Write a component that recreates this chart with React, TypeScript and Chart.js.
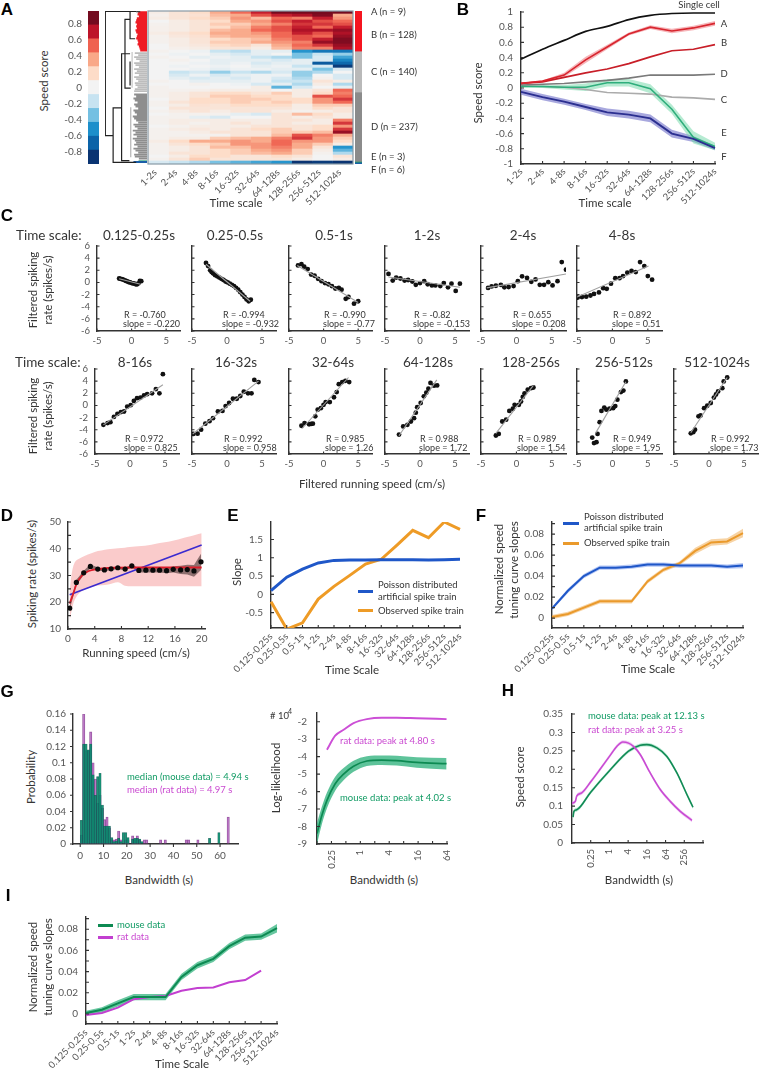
import React, { useEffect, useRef } from 'react';
import { Chart, registerables } from 'chart.js';
Chart.register(...registerables);

const FONT = 'Lato, "Open Sans", sans-serif';
Chart.defaults.font.family = FONT;
const AXIS = '#333';
const TICK = '#555';
const GREEN = '#0f9a62';
const MAGENTA = '#c947d0';

/* ---------- data ---------- */
const scale10 = ['1-2s','2-4s','4-8s','8-16s','16-32s','32-64s','64-128s','128-256s','256-512s','512-1024s'];
const scale13 = ['0.125-0.25s','0.25-0.5s','0.5-1s','1-2s','2-4s','4-8s','8-16s','16-32s','32-64s','64-128s','128-256s','256-512s','512-1024s'];
const colorLevels = ['#0a3472','#0b63a8','#1c8fcb','#74c0e2','#c7e3f1','#f3f3f3','#fddcc8','#f9a888','#ef6150','#bd1429','#740b1f'];
const heatRows = [
[.05,.1,.15,.3,.45,.6,.8,.85,.9,.85],[.03,.1,.12,.25,.3,.5,.6,.65,.75,.3],[.05,.1,.15,.2,.35,.25,.45,.4,.6,.35],
[0,.05,.1,.15,.3,.35,.5,.6,.5,.45],[.02,.05,.1,.2,.2,.3,.4,.55,.55,.5],[.03,.05,.1,.15,.25,.4,.5,.6,.45,.6],
[.03,.05,.1,.25,.3,.45,.5,.65,.65,.7],[.05,.1,.15,.3,.3,.35,.45,.6,.5,.65],[.02,.08,.12,.25,.3,.3,.45,.5,.45,.7],
[.02,.05,.1,.15,.2,.25,.4,.5,.6,.75],[.02,.05,.1,.2,.2,.3,.35,.4,.7,.75],[0,.05,.08,.15,.18,.1,.3,.45,.55,.7],
[0,.03,.05,.1,.1,.05,.25,.4,.4,.65],[.02,0,-.02,-.15,-.18,-.05,-.05,-.45,-.55,-.55],[0,-.02,0,-.05,-.1,-.05,0,-.3,-.15,-.25],
[.02,0,-.05,-.02,-.05,-.15,-.2,-.3,-.1,-.4],[0,.02,0,-.05,-.05,-.05,-.1,-.05,-.1,-.5],[0,0,-.02,-.05,-.02,-.1,-.05,-.05,-.65,-.6],
[0,-.02,0,-.02,0,-.05,-.02,-.15,-.1,-.75],[0,0,-.02,-.05,-.02,-.02,-.05,-.05,-.3,-.1],[0,-.15,-.1,-.25,-.15,-.2,-.1,-.25,-.2,0],
[0,-.1,-.02,-.1,-.05,-.02,-.02,-.25,0,-.1],[0,-.05,-.1,-.05,-.1,-.02,-.1,-.2,.02,-.1],[.02,0,-.05,-.05,-.05,-.02,-.15,-.15,.1,.05],
[0,0,.02,0,-.02,-.1,-.05,-.2,.05,-.2],[.02,0,0,0,0,.05,-.35,-.1,0,-.05],[.02,.02,.03,.05,.05,.05,0,.05,.1,.45],
[.02,.05,.1,.15,.15,.1,.2,.05,.15,.4],[.02,.05,.1,.2,.2,.15,.15,.05,.5,.45],[0,.05,.15,.15,.2,.2,.15,.15,.35,.55],
[.02,.1,.15,.15,.2,.15,.2,.15,.35,.45],[.02,.05,.12,.1,.15,.15,.15,.05,.2,.2],[0,.1,.1,.1,.1,.1,.1,.05,.15,.1],
[.02,.05,.1,.05,.1,.1,.05,.02,.05,.1],[0,.02,.02,.02,-.05,-.1,.1,.25,.15,.05],[.02,.02,-.05,-.1,0,0,.1,.05,.1,.05],
[.02,.05,.05,.05,.05,.05,.1,.1,.05,.4],[.02,.05,.02,.05,.1,.05,.1,.05,.05,.55],[0,.02,.05,.05,.05,.1,.1,.1,.15,.35],
[.02,.05,.08,.05,.1,.15,.2,.1,.15,.55],[.02,.02,.05,.1,.1,.1,.2,.2,.25,.7],[.02,.02,.02,.02,.1,.1,.25,.5,.4,.3],
[.02,.05,.05,.2,.25,.3,.4,.55,.35,.2],[.05,.15,.3,.3,.35,.3,.45,.35,.35,.15],[.02,.1,.15,.2,.35,.35,.45,.3,.2,.05],
[.02,.05,.1,.25,.25,.35,.4,.3,.1,-.45],[.02,.05,.1,.15,.2,.3,.35,.2,.05,-.35],[.02,.1,.1,.15,.2,.25,.3,.2,.02,-.2],
[0,.05,.15,.15,.1,.1,.15,.1,0,.1],[.02,.1,.2,.1,.1,.1,.1,.05,0,.05],[-.1,-.15,-.2,-.3,-.35,-.4,-.45,-.8,-.75,-.85],
];
const clusterCounts = [9,128,140,237,3,6];
const clusterColors = ['#f5141f','#f5141f','#b9b9b9','#8b8b8b','#1f9a6a','#1a5ea8'];
const dendroBlack = [
[[408,33],[317,33],[317,405],[340,405]],[[365,322],[340,322],[340,485],[408,485]],
[[390,160],[365,160],[365,480],[388,480]],[[390,57],[375,57],[375,263],[392,263]],[[390,33],[390,115],[405,115]],[[390,183],[390,255]],
];
const redLeafStart = [414,412,416,410,408,406,410,408,410,406,408,412,410,408,412,414,412,416,418,420];
const lightLeafStart = [404,414,402,408,418,402,406,416,402,410,404,416,402,408,414,404,406,412,404,402];
const darkLeafStart = [402,408,400,404,412,402,406,414,400,404,410,398,402,408,414,400,404,412,398,406,400,410,398,404,408,402,412,400,406,414,402,404,416];

const bSingle = [.38,.51,.627,.745,.81,.9,.955,.98,.987,.987];
const bA = [.06,.09,.17,.37,.54,.71,.8,.75,.79,.85];
const bAh = [.01,.01,.03,.04,.03,.02,.025,.03,.03,.03];
const bB = [.06,.08,.14,.2,.25,.32,.41,.49,.51,.57];
const bD = [.04,.05,.06,.08,.1,.13,.17,.17,.17,.18];
const bC = [.03,.02,.01,-.02,-.06,-.07,-.08,-.12,-.13,-.15];
const bE = [.02,.02,.01,.01,.07,.07,-.01,-.28,-.65,-.77];
const bEh = [.01,.02,.03,.05,.05,.05,.06,.06,.08,.05];
const bF = [-.05,-.12,-.18,-.25,-.32,-.35,-.4,-.6,-.67,-.79];
const bFh = [.04,.04,.04,.04,.05,.05,.05,.05,.04,.03];

const cTitles = ['0.125-0.25s','0.25-0.5s','0.5-1s','1-2s','2-4s','4-8s','8-16s','16-32s','32-64s','64-128s','128-256s','256-512s','512-1024s'];
const cR = ['-0.760','-0.994','-0.990','-0.82','0.655','0.892','0.972','0.992','0.985','0.988','0.989','0.949','0.992'];
const cSlope = ['-0.220','-0.932','-0.77','-0.153','0.208','0.51','0.825','0.958','1.26','1.72','1.54','1.95','1.73'];
const cYTickLabels = ['-6','-6','-4','-2','0','2','4','6'];
const cPoints = [
[[-1.8,.65],[-1.6,.6],[-1.4,.55],[-1.2,.45],[-1,.35],[-.8,.25],[-.6,.15],[-.4,.05],[-.2,0],[0,-.1],[.2,-.15],[.4,-.2],[.6,-.3],[.8,-.3],[1,-.15],[1.2,.25],[1.4,.2]],
[[-3,3.2],[-2.7,2.7],[-2.4,2],[-2.2,1.7],[-2,1.5],[-1.7,1.2],[-1.4,1],[-1.1,.8],[-.8,.6],[-.5,.4],[-.2,.15],[.1,0],[.4,-.2],[.7,-.4],[1,-.6],[1.3,-.9],[1.6,-1.2],[1.9,-1.6],[2.2,-2],[2.5,-2.4],[2.8,-2.8],[3.1,-3.1],[3.4,-2.85]],
[[-3.7,2.8],[-3.2,3],[-2.8,2.6],[-2.3,2.2],[-1.8,1.3],[-1.3,1.1],[-.8,.6],[-.3,.2],[.2,-.1],[.7,-.3],[1.2,-.6],[1.7,-1],[2.2,-.9],[2.6,-1.2],[3.2,-2.7],[3.6,-2.4],[4.4,-3.5],[5,-3.1]],
[[-4.5,1.4],[-3.9,.3],[-3.4,.8],[-2.8,.65],[-2.2,.3],[-1.7,.4],[-1.1,.15],[-.6,-.4],[0,-.1],[.6,.2],[1.1,-.3],[1.7,-.5],[2.2,-.5],[2.9,-.6],[3.4,-.1],[4,-.8],[4.5,-.2],[5.1,-1.4],[5.7,-.2]],
[[-4,-.9],[-3.5,-.65],[-2.9,-.55],[-2.2,-.4],[-1.7,-.8],[-1.1,-.75],[-.4,-.6],[.2,.2],[.8,1],[1.5,.75],[2.1,.1],[2.7,.5],[3.3,-.4],[3.9,-.4],[4.5,.05],[5.1,-.5],[5.8,.2],[6.4,3.35],[7,2.1]],
[[-4.9,-2.5],[-4.3,-2.4],[-3.7,-2.35],[-3.1,-2.15],[-2.6,-1.9],[-1.9,-1.65],[-1.3,-.95],[-.8,-1.05],[-.2,-.2],[.4,.7],[1,.7],[1.5,1.05],[2.1,1.6],[2.7,1.9],[3.3,1.7],[3.9,3.35],[4.5,2.7],[5,1.05],[5.6,.45]],
[[-3.8,-3.2],[-3.2,-2.9],[-2.8,-2.75],[-2.3,-1.9],[-1.8,-1.4],[-1.3,-1.1],[-.85,-1],[-.4,-.2],[.1,.05],[.55,.75],[1,1.2],[1.5,1.3],[2,1.65],[2.45,1.85],[3.15,2],[3.7,2.7],[4.2,2],[4.7,5.15]],
[[-4.8,-4.7],[-4.2,-4.65],[-3.7,-4],[-3.1,-3],[-2.5,-2.6],[-2,-2.1],[-1.3,-1],[-.65,-.9],[-.2,-.1],[.3,.4],[.85,1.1],[1.4,1.1],[1.9,1.55],[2.4,2.25],[3,2],[3.5,2],[3.9,4.2],[4.5,3.85]],
[[-3.2,-3.35],[-2.75,-2.9],[-2.1,-3.1],[-1.8,-3.05],[-1.55,-3],[-1.2,-1.8],[-.85,-.7],[-.4,-.45],[0,.1],[.3,.55],[.9,.55],[1.5,1.35],[1.9,2.2],[2.2,3.5],[2.7,3.85],[3.15,4.05],[3.7,3.85]],
[[-3,-4.8],[-2.4,-3.45],[-1.8,-3.2],[-1.3,-2.65],[-.85,-2.1],[-.6,-1.2],[-.4,-.3],[.1,.4],[.55,1.5],[.9,2.1],[1.2,2.75],[1.5,3.7],[2,3.25],[2.45,3.3]],
[[-2.9,-4.95],[-2.5,-4.7],[-2,-2.65],[-1.45,-2.35],[-1,-.9],[-.5,-.55],[-.25,.1],[.35,.1],[.65,.65],[.9,1.4],[1.15,2],[1.6,2.6],[2.05,2.85],[2.4,2.95]],
[[-2.85,-5.3],[-2.6,-6.2],[-2.25,-6.05],[-2.1,-4.7],[-1.8,-2.75],[-1.55,-.9],[-1.15,-.35],[-.85,-.7],[-.4,-.55],[.1,-.45],[.4,-.1],[.7,.95],[1.2,2.2],[1.55,2.45],[1.9,3.95]],
[[-2.6,-4.6],[-2.25,-4.4],[-2,-4],[-1.5,-1.8],[-1.2,-1.65],[-.7,-.45],[-.25,-.05],[.25,.4],[.7,1.3],[1,1.8],[1.3,2.3],[1.9,2.85],[2.1,3.95],[2.6,4.6]],
];
const cFits = [
[[-1.8,.6],[1.3,-.3]],[[-3,3],[3.3,-3.1]],[[-3.8,2.8],[5,-3.3]],[[-4.5,.9],[5.7,-.8]],[[-4.2,-.9],[7,1.4]],[[-5,-2.4],[5.1,2.7]],
[[-3.8,-3.2],[4.7,3.4]],[[-4.9,-4.7],[4.5,4]],[[-3.1,-3.8],[3.6,4.6]],[[-3,-5],[2.4,4.2]],[[-2.9,-4.6],[2.4,3.3]],[[-2.4,-4.6],[1.9,3.9]],[[-2.6,-4.5],[2.6,4.6]],
];
const cBoxes = [[97,181],[192,277],[289,373],[385,470],[481,567],[577,663],[95,180],[192,277],[289,373],[385,470],[481,567],[577,663],[674,759]];
const cTitleX = [139,235,334,427,523,622,135,236,333,428,531,624,717];
const cStatX = [124,223,324,414,513,613,125,224,326,420,518,613,711];

const dDotX = [.25,1.25,2.35,3.35,4.45,5.45,6.45,7.45,8.55,9.55,10.6,11.65,12.7,13.7,14.75,15.75,16.85,17.85,18.85,19.9];
const dDotY = [17.8,27.4,31,33.4,32.4,32.1,32.5,32.9,32.4,33.6,31.9,32,32,32,31.8,32.3,32.1,32.2,31.7,35.1];
const dDotH = [.5,1,.8,.8,.6,.5,.5,.5,.5,.5,.8,.9,.9,.9,1,1.2,1.5,1.8,2.2,3];
const dRedX = [.25,.8,1.3,2.1,3.1,4.4,6.9,10,14,20];
const dRedY = [19.5,23.4,27,30,31.7,32.4,32.9,33,33,33];
const dBandX = [.25,.5,1,2,4,6,7.5,8.5,10,12,14,16,18,20];
const dBandUp = [24,29.8,34.9,36.7,38.8,39.8,40.2,40.4,40.8,41.3,42.2,43.2,44.5,45.8];
const dBandLo = [13.2,16.4,20.9,24.1,26,26.6,27.5,26.2,26,26,26,26,26,26];
const dFitX = [.25,20];
const dFitY = [22.8,41.4];

const ePoisson = [.1,.47,.69,.86,.93,.94,.94,.95,.95,.95,.94,.95,.96];
const eObserved = [-.2,-.95,-.78,-.13,.22,.52,.83,.96,1.35,1.75,1.55,1.98,1.78];
const fPoisson = [.009,.026,.04,.048,.048,.049,.051,.051,.05,.05,.05,.049,.05];
const fPoissonH = [.0015,.002,.002,.002,.002,.002,.002,.002,.002,.002,.002,.002,.0025];
const fObserved = [.001,.004,.01,.016,.016,.016,.035,.046,.052,.064,.072,.073,.081];
const fObservedH = [.002,.002,.002,.002,.002,.002,.002,.002,.002,.003,.003,.003,.004];

const gMouse = [.029,.123,.123,.116,.123,.085,.06,.083,.087,.048,.022,.022,.022,.008,.003,.004,.007,.003,.014,.014,.008,0,.006,.007,.007,.006,.003,0,0,0,0,0,0,0,0,0,0,0,0,0,0,0,0,0,0,0,0,0,0,0,0,0,0,0,0,.007,0,0,0,.014,0,0,0,0];
const gRat = [.011,.16,.115,.115,.138,.1,.08,.05,.06,.044,.03,.033,.02,.005,.005,.006,.016,.005,0,.005,.005,0,.01,.005,.01,.005,0,.005,.005,0,0,0,0,0,.005,0,.005,0,0,0,0,0,0,0,0,.005,.005,0,0,0,.005,0,0,0,0,0,0,0,0,0,0,0,0,.033];

const llMouseLog2 = [-3,-2.66,-2.31,-1.74,-1.16,-.47,.45,1.48,2.52,3.9,5.97];
const llMouse = [-8.4,-7.35,-6.5,-5.55,-5,-4.55,-4.25,-4.2,-4.23,-4.33,-4.4];
const llMouseH = [.6,.5,.45,.4,.35,.32,.28,.27,.28,.3,.33];
const llRatLog2 = [-2.31,-1.74,-1.16,-.47,.45,1.48,2.52,3.9,5.97];
const llRat = [-3.6,-2.8,-2.46,-2.08,-1.85,-1.77,-1.77,-1.8,-1.85];

const hMouseLog2 = [-3.89,-3.79,-3.5,-2,0,2.04,3.29,4,5.07,6.14,7.21,8.29,8.93];
const hMouse = [.07,.086,.09,.138,.196,.249,.265,.267,.258,.235,.19,.131,.097];
const hRatLog2 = [-4,-3.64,-3.5,-2.96,-2,-1,0,.79,1.43,2.04,2.57,3.29,4.36,5.43,6.5,7.57,8.82];
const hRat = [.108,.113,.127,.136,.166,.2,.235,.262,.274,.271,.262,.24,.19,.145,.113,.086,.0615];

const iMouse = [.001,.004,.01,.016,.016,.016,.035,.046,.052,.064,.072,.073,.081];
const iMouseH = [.002,.0025,.003,.003,.003,.003,.003,.003,.003,.003,.003,.003,.004];
const iRat = [-.001,.001,.006,.014,.016,.017,.022,.0245,.025,.03,.032,.041];

/* ---------- helpers ---------- */
const tickMarks = {
  id: 'tickMarks',
  afterDraw(chart: any) {
    const o = chart.options.plugins.tickMarks;
    if (!o || !o.len) return;
    const c = chart.ctx, a = chart.chartArea;
    c.save();
    c.strokeStyle = AXIS;
    c.lineWidth = 1.1;
    const dir = o.dir === 'out' ? -1 : 1;
    c.beginPath();
    const xs = chart.scales.x, ys = chart.scales.y;
    if (xs && xs.options.display !== false) xs.ticks.forEach((_: any, i: number) => {
      const p = xs.getPixelForTick(i);
      c.moveTo(p, a.bottom); c.lineTo(p, a.bottom - dir * o.len);
    });
    if (ys && ys.options.display !== false) ys.ticks.forEach((_: any, i: number) => {
      const p = ys.getPixelForTick(i);
      c.moveTo(a.left, p); c.lineTo(a.left + dir * o.len, p);
    });
    c.stroke();
    c.restore();
  },
};
const frame = {
  id: 'frame',
  afterDraw(chart: any) {
    if (!chart.options.plugins.frame) return;
    const c = chart.ctx, a = chart.chartArea;
    c.save(); c.strokeStyle = '#8899a5'; c.lineWidth = 1.2;
    c.strokeRect(a.left, a.top, a.right - a.left, a.bottom - a.top);
    c.restore();
  },
};

function axis(o: any = {}) {
  const { values, labels, size = 10, rot = 0, padding = 4, ...rest } = o;
  return {
    grid: { display: true, drawOnChartArea: false, drawTicks: false, offset: false },
    border: { display: true, color: AXIS, width: 1.4 },
    offset: false,
    ticks: {
      color: TICK, font: { size, family: FONT }, autoSkip: false, padding,
      maxRotation: rot, minRotation: rot,
      ...(labels ? { callback: (_: any, i: number) => labels[i] } : {}),
    },
    ...(values ? { afterBuildTicks: (s: any) => { s.ticks = values.map((v: number) => ({ value: v })); } } : {}),
    ...rest,
  };
}
const hidden = (o: any = {}) => ({ display: false, ...o });

function Plot({ box, m = [50, 6, 6, 60], cfg, tick = 3, dir = 'in', frameOn = false }: any) {
  const ref = useRef<HTMLCanvasElement>(null);
  const [l, t, r, b] = box;
  const w = r - l + m[0] + m[2], h = b - t + m[1] + m[3];
  useEffect(() => {
    const c = cfg();
    const sc = c.options.scales;
    const hook = (s: any, key: 'width' | 'height', val: number) => {
      const prev = s.afterFit;
      s.afterFit = (ax: any) => {
        if (prev) prev(ax);
        ax[key] = val;
        ax.paddingLeft = ax.paddingRight = ax.paddingTop = ax.paddingBottom = 0;
      };
    };
    hook(sc.x, 'height', m[3]);
    hook(sc.y, 'width', m[0]);
    const chart = new Chart(ref.current as any, {
      ...c,
      plugins: [tickMarks, frame],
      options: {
        responsive: false, animation: false, devicePixelRatio: 1,
        layout: { padding: { left: 0, right: m[2], top: m[1], bottom: 0 } },
        ...c.options,
        plugins: { legend: { display: false }, tooltip: { enabled: false }, title: { display: false },
          tickMarks: { len: tick, dir }, frame: frameOn },
      },
    });
    return () => chart.destroy();
  }, []);
  return <canvas ref={ref} width={w} height={h} style={{ position: 'absolute', left: l - m[0], top: t - m[1], width: w, height: h }} />;
}

const line = (data: any[], color: string, width = 1.6, extra: any = {}) => ({ data, borderColor: color, backgroundColor: color, borderWidth: width, pointRadius: 0, fill: false, ...extra });
const band = (center: number[], half: number[], color: string, xs?: number[], extra: any = {}) => {
  const mk = (s: number) => center.map((v, i) => xs ? { x: xs[i], y: v + s * half[i] } : v + s * half[i]);
  return [
    { data: mk(1), borderWidth: 0, pointRadius: 0, fill: '+1', backgroundColor: color, borderColor: 'transparent', ...extra },
    { data: mk(-1), borderWidth: 0, pointRadius: 0, fill: false, borderColor: 'transparent', ...extra },
  ];
};
const xy = (xs: number[], ys: number[]) => xs.map((x, i) => ({ x, y: ys[i] }));
const SMOOTH = { cubicInterpolationMode: 'monotone' };

const T = ({ x, y, s, size = 11.5, color = '#333', rot = 0, a = 'c', w, f }: any) => (
  <div style={{ position: 'absolute', left: x, top: y, opacity: 0.99, transform: `translate(${a === 'c' ? '-50%' : '0'},-50%) rotate(${rot}deg)`, whiteSpace: 'nowrap', fontSize: size, color, fontFamily: f || FONT, lineHeight: 1, fontWeight: w }}>{s}</div>
);
const Swatch = ({ x, y, w, color, h = 3 }: any) => (
  <div style={{ position: 'absolute', left: x, top: y - h / 2, width: w, height: h, background: color }} />
);
const Letter = ({ x, y, s }: any) => <T x={x} y={y} s={s} size={17} color="#000" w={700} f='"Liberation Sans", Arial, sans-serif' />;

/* ---------- panel configs ---------- */
const rgb = (h: string) => [1, 3, 5].map(i => parseInt(h.slice(i, i + 2), 16));
const lvl = (v: number) => {
  const p = Math.max(0, Math.min(10, (v * 1.12 + 0.955) / (1.91 / 11) - 0.5));
  const i = Math.min(9, Math.floor(p)), t = p - i;
  const a = rgb(colorLevels[i]), b = rgb(colorLevels[i + 1]);
  return `rgb(${a.map((c, k) => Math.round(c + (b[k] - c) * t)).join(',')})`;
};
const colorbarCfg = () => ({
  type: 'bar',
  data: { labels: ['c'], datasets: colorLevels.map((col, i) => ({ data: [[-0.955 + i * 1.91 / 11, -0.955 + (i + 1) * 1.91 / 11]], backgroundColor: col, barPercentage: 1, categoryPercentage: 1, grouped: false, borderWidth: 0 })) },
  options: { scales: {
    x: hidden(), y: axis({ min: -0.955, max: 0.955, values: [-.8,-.6,-.4,-.2,0,.2,.4,.6,.8], labels: ['-0.8','-0.6','-0.4','-0.2','0','0.2','0.4','0.6','0.8'], border: { display: false }, padding: 6 }),
  } },
});
const segs = (lines: number[][][]) => {
  const out: any[] = [];
  lines.forEach(l => { l.forEach(p => out.push({ x: p[0], y: p[1] })); out.push({ x: NaN, y: NaN }); });
  return out;
};
const leaves = (starts: number[], y0: number) => starts.map((s, i) => [[s, y0 + i * 6], [440, y0 + i * 6]]);
const dendroCfg = () => ({
  type: 'line',
  data: { datasets: [
    line(segs(dendroBlack), '#222', 1.2),
    line(segs([[[408,33],[420,33]]]), '#444', 2),
    line(segs(leaves(redLeafStart, 36)), '#ee1c25', 2.1),
    line(segs(leaves(lightLeafStart, 158)), '#bdbdbd', 1.9),
    line(segs(leaves(darkLeafStart, 282)), '#8e8e8e', 1.9),
    line(segs([[[396,155],[396,262]]]), '#c4c4c4', 1.2),
    line(segs([[[392,320],[392,470]]]), '#b4b4b4', 1.2),
    line(segs([[[400,484],[440,484]]]), '#1a5ea8', 2),
    line(segs([[[415,481],[440,481]]]), '#1f9a6a', 1.2),
  ] },
  options: { scales: { x: hidden({ type: 'linear', min: 316, max: 440 }), y: hidden({ type: 'linear', min: 32, max: 490, reverse: true }) } },
});
const heatCfg = () => ({
  type: 'bar',
  data: {
    labels: heatRows.map((_, i) => 'r' + i),
    datasets: scale10.map((_, col) => ({
      data: heatRows.map(() => 1),
      backgroundColor: heatRows.map(r => lvl(r[col])),
      barPercentage: 1, categoryPercentage: 1, borderWidth: 0,
    })),
  },
  options: {
    indexAxis: 'y',
    scales: {
      x: axis({ type: 'linear', stacked: true, min: 0, max: 10, rot: 45, size: 9.5, values: scale10.map((_, i) => i + .35), labels: scale10, border: { display: false } , padding: 3 }),
      y: hidden({ stacked: true }),
    },
  },
});
const stripCfg = () => ({
  type: 'bar',
  data: { labels: ['clusters'], datasets: clusterCounts.map((n, i) => ({ data: [n], backgroundColor: clusterColors[i], barPercentage: 1, categoryPercentage: 1, borderWidth: 0 })) },
  options: { scales: { x: hidden({ stacked: true }), y: hidden({ type: 'linear', stacked: true, min: 0, max: 523, reverse: true }) } },
});
const bCfg = () => ({
  type: 'line',
  data: { labels: scale10, datasets: [
    line(bSingle, '#111', 1.7, SMOOTH), line(bA, '#d8262f', 1.7), line(bB, '#c81e28', 1.7),
    line(bF, '#2b2f90', 1.9), line(bE, '#2fae7c', 1.6), line(bD, '#7a7a7a', 1.6), line(bC, '#ababab', 1.6),
    ...band(bA, bAh, 'rgba(235,90,100,.45)'), ...band(bE, bEh, 'rgba(110,215,165,.5)'), ...band(bF, bFh, 'rgba(110,110,200,.6)'),
  ] },
  options: { scales: {
    x: axis({ rot: 45, size: 9.5, padding: 2 }),
    y: axis({ min: -1, max: 1, values: [-1,-.8,-.6,-.4,-.2,0,.2,.4,.6,.8,1], labels: ['-1','-0.8','-0.6','-0.4','-0.2','0','0.2','0.4','0.6','0.8','1'], padding: 8 }),
  } },
});
const cCfg = (i: number) => () => ({
  type: 'line',
  data: { datasets: [
    line(cFits[i].map(p => ({ x: p[0], y: p[1] })), '#a0a0a0', 1.1),
    { data: cPoints[i].map(p => ({ x: p[0], y: p[1] })), showLine: false, pointRadius: 2.4, pointBackgroundColor: '#111', pointBorderWidth: 0, borderColor: '#111' },
  ] },
  options: { scales: {
    x: axis({ type: 'linear', min: -5, max: 7, values: [-5,0,5], labels: ['-5','0','5'], size: 9.5 }),
    y: axis({ min: -8, max: 6, values: [-8,-6,-4,-2,0,2,4,6], labels: (i === 0 || i === 6) ? cYTickLabels : cYTickLabels.map(() => ''), size: 9.5, padding: 7 }),
  } },
});
const dCfg = () => ({
  type: 'line',
  data: { datasets: [
    { data: xy(dDotX, dDotY), showLine: false, pointRadius: 2.6, pointBackgroundColor: '#0a0a0a', pointBorderWidth: 0, borderColor: '#000' },
    line(xy(dRedX, dRedY), '#dc1c2a', 1.8, SMOOTH),
    line(xy(dFitX, dFitY), '#3a2bd0', 1.6),
    ...band(dDotY, dDotH, 'rgba(70,50,50,.6)', dDotX),
    { data: xy(dBandX, dBandUp), borderWidth: 0, pointRadius: 0, fill: '+1', backgroundColor: 'rgba(249,190,190,.8)', borderColor: 'transparent', tension: .3 },
    { data: xy(dBandX, dBandLo), borderWidth: 0, pointRadius: 0, fill: false, borderColor: 'transparent', tension: .3 },
  ] },
  options: { scales: {
    x: axis({ type: 'linear', min: 0, max: 20.5, values: [0,4,8,12,16,20], labels: ['0','4','8','12','16','20'] }),
    y: axis({ min: 10, max: 50, values: [10,15,20,25,30,35,40,45,50], labels: ['10','','20','','30','','40','','50'], padding: 7 }),
  } },
});
const eCfg = () => ({
  type: 'line',
  data: { labels: scale13, datasets: [line(ePoisson, '#1f57c8', 3), line(eObserved, '#ee9b26', 3)] },
  options: { scales: {
    x: axis({ rot: 45, size: 9.5, padding: 3 }),
    y: axis({ min: -.92, max: 1.98, values: [-.5,0,.5,1,1.5], labels: ['-0.5','0','0.5','1','1.5'], padding: 8 }),
  } },
});
const fFineTicks = [0,.01,.02,.03,.04,.05,.06,.07,.08,.09];
const fFineLabels = ['0','','0.02','','0.04','','0.06','','0.08',''];
const fCfg = () => ({
  type: 'line',
  data: { labels: scale13, datasets: [
    line(fPoisson, '#1f57c8', 2), line(fObserved, '#ea9a2c', 2),
    ...band(fPoisson, fPoissonH, 'rgba(90,130,230,.45)'), ...band(fObserved, fObservedH, 'rgba(240,175,90,.55)'),
  ] },
  options: { scales: {
    x: axis({ rot: 45, size: 9.5, padding: 3 }),
    y: axis({ min: -.0094, max: .0915, values: fFineTicks, labels: fFineLabels, padding: 8 }),
  } },
});
const gCfg = () => ({
  type: 'bar',
  data: { datasets: [
    { data: gMouse.map((v, i) => ({ x: i + .5, y: v })), backgroundColor: 'rgba(6,140,108,.88)', borderColor: 'rgba(10,70,70,.7)', borderWidth: .5, barPercentage: 1, categoryPercentage: 1, grouped: false },
    { data: gRat.map((v, i) => ({ x: i + .5, y: v })), backgroundColor: 'rgba(170,80,185,.65)', borderColor: 'rgba(110,40,120,.7)', borderWidth: .5, barPercentage: 1, categoryPercentage: 1, grouped: false },
  ] },
  options: { scales: {
    x: axis({ type: 'linear', min: -3.1, max: 67.7, values: [0,10,20,30,40,50,60], labels: ['0','10','20','30','40','50','60'], padding: 6 }),
    y: axis({ min: 0, max: .16, values: [0,.02,.04,.06,.08,.1,.12,.14,.16], labels: ['0','0.02','0.04','0.06','0.08','0.1','0.12','0.14','0.16'], padding: 7 }),
  } },
});
const llCfg = () => ({
  type: 'line',
  data: { datasets: [
    line(xy(llRatLog2, llRat), '#cc4fd6', 1.9, SMOOTH),
    line(xy(llMouseLog2, llMouse), '#0d8a52', 1.7, SMOOTH),
    ...band(llMouse, llMouseH, 'rgba(40,175,120,.75)', llMouseLog2, SMOOTH),
  ] },
  options: { scales: {
    x: axis({ type: 'linear', min: -3, max: 6, values: [-3,-2,-1,0,1,2,3,4,5,6], labels: ['','0.25','','1','','4','','16','','64'], rot: 90, size: 9.5, padding: 6 }),
    y: axis({ min: -9, max: -1.5, values: [-9,-8,-7,-6,-5,-4,-3,-2], labels: ['-9','-8','-7','-6','-5','-4','-3','-2'], padding: 10 }),
  } },
});
const hCfg = () => ({
  type: 'line',
  data: { datasets: [
    line(xy(hRatLog2, hRat), '#c94bd3', 1.6, SMOOTH),
    line(xy(hMouseLog2, hMouse), '#118a55', 1.6, SMOOTH),
    ...band(hRat, hRat.map(() => .005), 'rgba(225,150,235,.5)', hRatLog2, SMOOTH),
    ...band(hMouse, hMouse.map(() => .005), 'rgba(120,215,170,.5)', hMouseLog2, SMOOTH),
  ] },
  options: { scales: {
    x: axis({ type: 'linear', min: -4, max: 10, values: [-2,0,2,4,6,8,10], labels: ['0.25','1','4','16','64','256',''], rot: 90, size: 9.5, padding: 6 }),
    y: axis({ min: 0, max: .35, values: [0,.05,.1,.15,.2,.25,.3,.35], labels: ['0','0.05','0.1','0.15','0.2','0.25','0.3','0.35'], padding: 9 }),
  } },
});
const iCfg = () => ({
  type: 'line',
  data: { labels: scale13, datasets: [
    line(iMouse, '#0d8a52', 2), line(iRat, '#c23fd0', 2),
    ...band(iMouse, iMouseH, 'rgba(40,175,120,.7)'),
  ] },
  options: { scales: {
    x: axis({ rot: 45, size: 9.5, padding: 3 }),
    y: axis({ min: -.0094, max: .0915, values: fFineTicks, labels: fFineLabels, padding: 8 }),
  } },
});

const aSideLabels = [['A (n = 9)',12],['B (n = 128)',35],['C (n = 140)',72],['D (n = 237)',127],['E (n = 3)',157],['F (n = 6)',170]];
const bSideLabels = [['A',24],['B',43],['D',74],['C',100],['E',133],['F',157]];

export default function App() {
  return (
    <div style={{ position: 'absolute', left: 0, top: 0, width: 760, height: 1070, background: '#fff', overflow: 'hidden', filter: 'blur(0.35px)' }}>
      {/* A */}
      <Plot box={[88, 11, 99, 164]} m={[30, 5, 2, 2]} cfg={colorbarCfg} tick={0} />
      <Plot box={[105, 11, 147, 164]} m={[0, 2, 0, 2]} cfg={dendroCfg} tick={0} />
      <Plot box={[148, 11, 353, 164]} m={[12, 2, 4, 42]} cfg={heatCfg} tick={0} frameOn />
      <Plot box={[355, 11, 362, 164]} m={[0, 0, 0, 0]} cfg={stripCfg} tick={0} />
      <T x={44} y={81} s="Speed score" rot={-90} />
      <T x={236} y={203} s="Time scale" />
      {aSideLabels.map(([s, y]: any) => <T key={s} x={371} y={y} s={s} a="l" size={9.5} />)}
      {/* B */}
      <Plot box={[521, 12, 715, 164]} m={[40, 8, 14, 44]} cfg={bCfg} />
      <T x={478} y={93} s="Speed score" rot={-90} />
      <T x={605} y={203} s="Time scale" />
      <T x={699} y={5} s="Single cell" size={9.5} />
      {bSideLabels.map(([s, y]: any) => <T key={s} x={724} y={y} s={s} size={9.5} />)}
      {/* C */}
      {cBoxes.map((bx, i) => {
        const row2 = i > 5;
        const top = row2 ? 369 : 246, bottom = row2 ? 454 : 331;
        return <Plot key={i} box={[bx[0], top, bx[1], bottom]} m={[18, 6, 3, 20]} cfg={cCfg(i)} tick={2.5} />;
      })}
      {cTitles.map((s, i) => <T key={s} x={cTitleX[i]} y={i > 5 ? 363 : 236} s={s} size={13.5} />)}
      {cR.map((s, i) => <T key={i} x={cStatX[i]} y={i > 5 ? 438 : 314} s={`R = ${s}`} a="l" size={9} />)}
      {cSlope.map((s, i) => <T key={i} x={cStatX[i] - 1} y={i > 5 ? 447 : 323} s={`slope = ${s}`} a="l" size={9} />)}
      <T x={16} y={236} s="Time scale:" a="l" size={13.5} />
      <T x={15} y={363} s="Time scale:" a="l" size={13.5} />
      <T x={33} y={290} s="Filtered spiking" rot={-90} />
      <T x={48} y={290} s="rate (spikes/s)" rot={-90} />
      <T x={33} y={416} s="Filtered spiking" rot={-90} />
      <T x={48} y={416} s="rate (spikes/s)" rot={-90} />
      <T x={372} y={484} s="Filtered running speed (cm/s)" />
      {/* D */}
      <Plot box={[68, 522, 205, 629]} m={[26, 6, 6, 20]} cfg={dCfg} />
      <T x={32} y={574} s="Spiking rate (spikes/s)" rot={-90} />
      <T x={136} y={653} s="Running speed (cm/s)" />
      {/* E */}
      <Plot box={[271, 522, 460, 628]} m={[60, 3, 8, 55]} cfg={eCfg} />
      <T x={237} y={572} s="Slope" rot={-90} />
      <T x={352} y={670} s="Time Scale" />
      <Swatch x={358} y={591} w={15} color="#1f57c8" />
      <Swatch x={358} y={610} w={15} color="#ee9b26" />
      <T x={378} y={585} s="Poisson distributed" a="l" size={9.5} />
      <T x={378} y={597} s="artificial spike train" a="l" size={9.5} />
      <T x={378} y={611} s="Observed spike train" a="l" size={9.5} />
      {/* F */}
      <Plot box={[552, 522, 743, 628]} m={[60, 3, 8, 55]} cfg={fCfg} />
      <T x={499} y={569} s="Normalized speed" rot={-90} />
      <T x={514} y={570} s="tuning curve slopes" rot={-90} />
      <T x={648} y={669} s="Time Scale" />
      <Swatch x={563} y={523} w={16} color="#1f57c8" />
      <Swatch x={563} y={543} w={16} color="#ea9a2c" />
      <T x={584} y={517} s="Poisson distributed" a="l" size={9.5} />
      <T x={584} y={528} s="artificial spike train" a="l" size={9.5} />
      <T x={584} y={543} s="Observed spike train" a="l" size={9.5} />
      {/* G hist */}
      <Plot box={[73, 714, 238, 844]} m={[32, 7, 4, 20]} cfg={gCfg} dir="out" tick={3} />
      <T x={31} y={777} s="Probability" rot={-90} />
      <T x={159} y={880} s="Bandwidth (s)" />
      <T x={127} y={777} s="median (mouse data) = 4.94 s" a="l" size={9.5} color={GREEN} />
      <T x={127} y={790} s="median (rat data) = 4.97 s" a="l" size={9.5} color={MAGENTA} />
      {/* G log-likelihood */}
      <Plot box={[317, 713, 447, 844]} m={[30, 3, 8, 26]} cfg={llCfg} />
      <T x={276} y={778} s="Log-likelihood" rot={-90} />
      <T x={384} y={880} s="Bandwidth (s)" />
      <T x={270} y={716} s="# 10" a="l" size={9.5} />
      <T x={288} y={711} s="4" a="l" size={7} />
      <T x={340} y={741} s="rat data: peak at 4.80 s" a="l" size={9.5} color={MAGENTA} />
      <T x={340} y={798} s="mouse data: peak at 4.02 s" a="l" size={9.5} color={GREEN} />
      {/* H */}
      <Plot box={[572, 714, 703, 843]} m={[34, 7, 6, 26]} cfg={hCfg} />
      <T x={520} y={777} s="Speed score" rot={-90} />
      <T x={639} y={880} s="Bandwidth (s)" />
      <T x={588} y={716} s="mouse data: peak at 12.13 s" a="l" size={9.5} color={GREEN} />
      <T x={588} y={730} s="rat data: peak at 3.25 s" a="l" size={9.5} color={MAGENTA} />
      {/* I */}
      <Plot box={[86, 917, 277, 1024]} m={[60, 3, 8, 46]} cfg={iCfg} />
      <T x={33} y={967} s="Normalized speed" rot={-90} />
      <T x={48} y={967} s="tuning curve slopes" rot={-90} />
      <T x={182} y={1064} s="Time Scale" />
      <Swatch x={98} y={925} w={15} color="#0d8a52" />
      <Swatch x={98} y={937} w={15} color="#c23fd0" />
      <T x={117} y={925} s="mouse data" a="l" size={9.5} color={GREEN} />
      <T x={117} y={937} s="rat data" a="l" size={9.5} color={MAGENTA} />
      {/* letters */}
      <Letter x={7} y={9} s="A" /><Letter x={463} y={9} s="B" /><Letter x={7} y={215} s="C" />
      <Letter x={7} y={515} s="D" /><Letter x={233} y={515} s="E" /><Letter x={481} y={515} s="F" />
      <Letter x={7} y={691} s="G" /><Letter x={508} y={690} s="H" /><Letter x={8} y={895} s="I" />
    </div>
  );
}
